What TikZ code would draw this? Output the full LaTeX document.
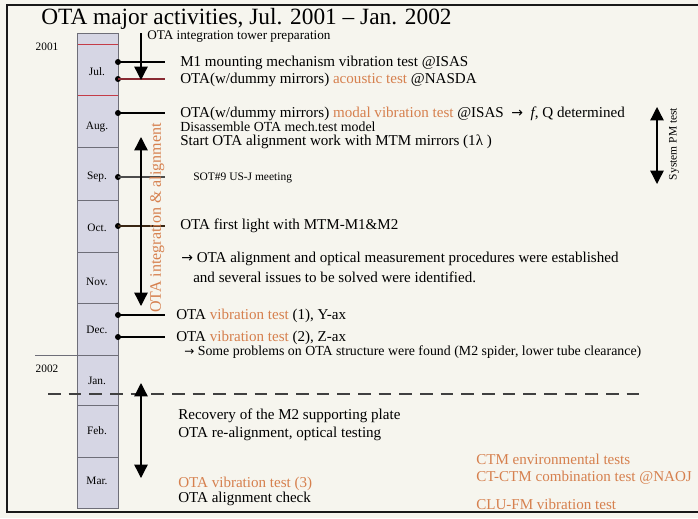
\documentclass[tikz,border=0pt]{standalone}
\usepackage{fontspec}
\setmainfont{Liberation Serif}
\newfontfamily\arrowfont{DejaVu Sans}
\usetikzlibrary{arrows.meta}
\definecolor{paper}{RGB}{246,245,238}
\definecolor{accent}{RGB}{214,128,78}
\definecolor{cellfill}{RGB}{214,214,228}
\definecolor{cellline}{RGB}{110,110,120}
\definecolor{redrule}{RGB}{196,60,72}
\definecolor{frame}{RGB}{25,25,25}
\newcommand{\toarrow}{{\arrowfont\fontsize{10.5}{12}\selectfont →}}
\begin{document}
\begin{tikzpicture}[x=0.75pt,y=-0.75pt,
  ev/.style={anchor=base west,inner sep=0pt,font=\fontsize{11.3}{13}\selectfont},
  sm/.style={anchor=base west,inner sep=0pt,font=\fontsize{9.9}{11}\selectfont},
  mon/.style={inner sep=0pt,font=\fontsize{8.5}{10}\selectfont},
  yr/.style={inner sep=0pt,font=\fontsize{8.5}{10}\selectfont},
  tick/.style={line width=0.8pt},
  evdot/.style={circle,fill=black,inner sep=0pt,minimum size=4.5pt},
  bigarrow/.style={line width=1pt,-{Triangle[width=10pt,length=10pt]}},
  twoway/.style={line width=1pt,{Triangle[width=10pt,length=10pt]}-{Triangle[width=10pt,length=10pt]}},
  hl/.style={text=accent}]
\fill[paper] (0,0) rectangle (698,518);
\useasboundingbox (0,0) rectangle (698,518);

% frame
\draw[frame,line width=2pt] (700,5) -- (7,5) -- (7,512) -- (700,512);

% title
\node[anchor=base west,inner sep=0pt,font=\fontsize{17.5}{20}\selectfont] (title) at (41,24)
  {OTA major activities, Jul. 2001 – Jan. 2002};

% month column
\fill[cellfill] (77,33) rectangle (118,508);
\foreach \yy in {147,200,252,303,355,405,457}
  \draw[cellline,line width=0.6pt] (77,\yy) -- (118,\yy);
\draw[redrule,line width=0.6pt] (77,44) -- (118,44);
\draw[redrule,line width=0.6pt] (77,95) -- (118,95);
\draw[cellline,line width=0.6pt] (77,33) rectangle (118,508);

\node[mon] (jul) at (97,72) {Jul.};
\node[mon] (aug) at (97,127) {Aug.};
\node[mon] (sep) at (97,177) {Sep.};
\node[mon] (oct) at (97,228) {Oct.};
\node[mon] (nov) at (97,282) {Nov.};
\node[mon] (dec) at (97,330) {Dec.};
\node[mon] (jan) at (97,381) {Jan.};
\node[mon] (feb) at (97,431) {Feb.};
\node[mon] (mar) at (97,481) {Mar.};

% years
\node[yr] (y2001) at (47,47) {2001};
\node[yr] (y2002) at (47,369) {2002};
\draw[cellline,line width=0.6pt] (35,355) -- (77,355);

% event markers on the column edge
\foreach \nm/\yy in {m1/62,ac/79,mo/113,so/177,fl/226,v1/315,v2/337}{
  \node[evdot] (d\nm) at (118,\yy) {};
  \coordinate (e\nm) at (165,\yy);
}
\draw[tick] (dm1.center) -- (em1);
\draw[tick,redrule!70!black] (dac.center) -- (eac);
\draw[tick] (dmo.center) -- (emo);
\draw[tick,black!70] (dso.center) -- (eso);
\draw[tick,black!70!brown] (dfl.center) -- (efl);
\draw[tick] (dv1.center) -- (ev1);
\draw[tick] (dv2.center) -- (ev2);

% tower preparation arrow
\coordinate (tTop) at (141,33);
\coordinate (tBot) at (141,80);
\draw[bigarrow] (tTop) -- (tBot);
\node[sm] (tower) at (147,39) {OTA integration tower preparation};

% events
\node[ev] (m1) at (180,66) {M1 mounting mechanism vibration test @ISAS};
\node[ev] (ac) at (180,83) {OTA(w/dummy mirrors) \textcolor{accent}{acoustic test} @NASDA};
\node[ev] (mo) at (180,117) {OTA(w/dummy mirrors) \textcolor{accent}{modal vibration test} @ISAS \ \toarrow\ \ \textit{f}, Q determined};
\node[sm,font=\fontsize{10.4}{11}\selectfont] (dis) at (180,131) {Disassemble OTA mech.test model};
\node[ev] (st) at (180,145) {Start OTA alignment work with MTM mirrors (1λ )};
\node[sm,font=\fontsize{8.6}{10}\selectfont] (sot) at (193,180) {SOT\#9 US-J meeting};
\node[ev] (fl) at (180,229) {OTA first light with MTM-M1\&M2};
\node[ev] (pr1) at (181,262) {\toarrow\ OTA alignment and optical measurement procedures were established};
\node[ev] (pr2) at (193,282) {and several issues to be solved were identified.};
\node[ev] (vt1) at (176,319) {OTA \textcolor{accent}{vibration test} (1), Y-ax};
\node[ev] (vt2) at (176,341) {OTA \textcolor{accent}{vibration test} (2), Z-ax};
\node[sm,font=\fontsize{10.4}{11}\selectfont] (pb) at (184,355) {{\arrowfont\fontsize{9}{10}\selectfont →} Some problems on OTA structure were found (M2 spider, lower tube clearance)};

% integration & alignment span
\coordinate (iaTop) at (141,137);
\coordinate (iaBot) at (141,306);
\draw[twoway] (iaTop) -- (iaBot);
\node[inner sep=0pt,rotate=90,text=accent,font=\fontsize{12}{14}\selectfont] (ialab) at (157,218)
  {OTA integration \& alignment};

% system PM test span
\coordinate (pmTop) at (657,107);
\coordinate (pmBot) at (657,184);
\draw[twoway] (pmTop) -- (pmBot);
\node[inner sep=0pt,rotate=90,font=\fontsize{8.6}{10}\selectfont] (pmlab) at (674,144) {System PM test};

% 2002 separator
\coordinate (dsL) at (48,394);
\coordinate (dsR) at (643,394);
\draw[black!75,line width=1.1pt,dash pattern=on 9.5pt off 6pt] (dsL) -- (dsR);

% 2002 span
\coordinate (rTop) at (141,383);
\coordinate (rBot) at (141,478);
\draw[twoway] (rTop) -- (rBot);

\node[ev] (rec) at (178,419) {Recovery of the M2 supporting plate};
\node[ev] (real) at (178,437) {OTA re-alignment, optical testing};
\node[ev,hl] (vt3) at (178,487) {OTA vibration test (3)};
\node[ev] (chk) at (178,502) {OTA alignment check};

\node[ev,hl] (ctm) at (476,464) {CTM environmental tests};
\node[ev,hl] (ct) at (476,481) {CT-CTM combination test @NAOJ};
\node[ev,hl] (clu) at (476,509) {CLU-FM vibration test};
\end{tikzpicture}
\end{document}
